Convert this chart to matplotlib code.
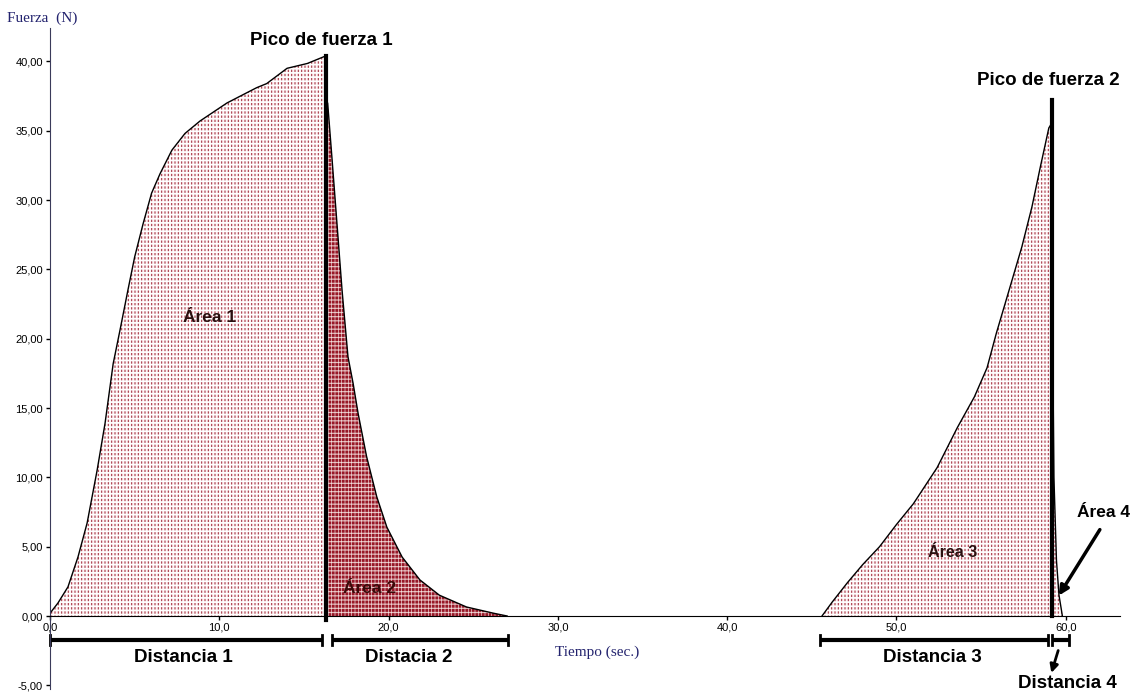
import numpy as np
import matplotlib.pyplot as plt

# --- datos ---
# subida hasta el pico 1 (Área 1)
t1 = [0, 0.47, 1.06, 1.65, 2.19, 2.78, 3.25, 3.73, 4.13, 4.6, 5.0, 5.5, 6.0, 6.5, 7.2,
      7.97, 8.86, 10.45, 12.2, 12.8, 14.0, 15.2, 16.3]
f1 = [0.2, 0.94, 2.1, 4.25, 6.7, 10.5, 13.9, 18.2, 20.6, 23.5, 25.9, 28.3, 30.5, 31.9, 33.6,
      34.8, 35.7, 37.0, 38.1, 38.4, 39.5, 39.85, 40.4]
# bajada tras el pico 1 (Área 2)
t2 = [16.3, 16.4, 16.65, 16.95, 17.25, 17.6, 17.9, 18.2, 18.7, 19.3, 19.9, 20.8, 21.85,
      23.0, 24.6, 26.2, 27.0]
f2 = [37.0, 37.0, 33.1, 28.3, 23.5, 18.7, 16.8, 14.6, 11.5, 8.6, 6.4, 4.25, 2.6,
      1.5, 0.65, 0.2, 0.0]
# subida hasta el pico 2 (Área 3)
t3 = [45.6, 46.2, 47.1, 48.0, 49.0, 50.0, 51.0, 52.4, 53.6, 54.6, 55.35, 55.9, 56.7,
      57.4, 58.0, 58.5, 59.0, 59.2]
f3 = [0.0, 1.0, 2.4, 3.7, 5.0, 6.6, 8.1, 10.7, 13.6, 15.8, 17.9, 20.4, 23.7,
      26.6, 29.5, 32.4, 35.2, 35.6]
# bajada tras el pico 2 (Área 4)
t4 = [59.25, 59.3, 59.45, 59.6, 59.8]
f4 = [16.8, 10.0, 4.0, 1.5, 0.0]

pico1 = (16.3, 40.4)
pico2 = (59.2, 37.2)

# tramos de distancia (inicio, fin, etiqueta)
distancias = [(0.0, 16.07, "Distancia 1"), (16.66, 27.05, "Distacia 2"),
              (45.48, 58.95, "Distancia 3"), (59.18, 60.19, "Distancia 4")]

xticks = [0, 10, 20, 30, 40, 50, 60]
yticks = [-5, 0, 5, 10, 15, 20, 25, 30, 35, 40]

navy = "#23236e"
bold = dict(family="Liberation Sans", weight="bold")

fig = plt.figure(figsize=(11.37, 6.94), dpi=100)
ax = fig.add_axes([0.044, 0.0065, 0.941, 0.953])
ax.set_xlim(0, 63.2)
ax.set_ylim(-5.3, 42.4)


def relleno(t, f, cara, rayas, color_raya, blanco, lw_raya, lw_blanco):
    plt.rcParams['hatch.linewidth'] = lw_raya
    ax.fill_between(t, 0, f, facecolor=cara, edgecolor=color_raya, hatch=rayas, linewidth=0)
    plt.rcParams['hatch.linewidth'] = lw_blanco
    ax.fill_between(t, 0, f, facecolor="none", edgecolor="white", hatch=blanco, linewidth=0)
    ax.plot(t, f, color="black", lw=1)


claro = ("#fcf2f2", "|||||", "#a83848", "----", 0.8, 1.3)
oscuro = ("#e4b8b8", "----", "#981828", "|||||", 2.1, 0.4)
relleno(t1, f1, *claro)
relleno(t2, f2, *oscuro)
relleno(t3, f3, *claro)
relleno(t4, f4, *claro)

# líneas de pico
ax.plot([pico1[0], pico1[0]], [-0.3, pico1[1]], color="black", lw=3)
ax.plot([pico2[0], pico2[0]], [0, pico2[1]], color="black", lw=3)

# ejes
for s in ["top", "right"]:
    ax.spines[s].set_visible(False)
ax.spines["left"].set_color("#3a3a5a")
ax.spines["bottom"].set_position(("data", 0))
ax.spines["bottom"].set_color("black")
ax.set_xticks(xticks)
ax.set_xticklabels([f"{v:.1f}".replace(".", ",") for v in xticks])
ax.set_yticks(yticks)
ax.set_yticklabels([f"{v:.2f}".replace(".", ",") for v in yticks])
ax.tick_params(axis="both", length=3, width=1, labelsize=8, pad=2)
for lab in ax.get_xticklabels() + ax.get_yticklabels():
    lab.set_family("Liberation Sans")

fig.text(0.006, 0.974, "Fuerza  (N)", family="Liberation Serif", fontsize=11, color=navy, va="center")
ax.text(32.3, -2.6, "Tiempo (sec.)", family="Liberation Serif", fontsize=11, color=navy, ha="center", va="center")

# tramos de distancia
yb = -1.73
for x0, x1, nombre in distancias:
    ax.plot([x0, x1], [yb, yb], color="black", lw=3, solid_capstyle="butt", clip_on=False)
    for xc in (x0, x1):
        ax.plot([xc, xc], [yb - 0.35, yb + 0.35], color="black", lw=2, clip_on=False)

ax.text(7.85, -3.0, "Distancia 1", fontsize=13.5, ha="center", va="center", **bold)
ax.text(21.2, -3.0, "Distacia 2", fontsize=13.5, ha="center", va="center", **bold)
ax.text(52.1, -3.0, "Distancia 3", fontsize=13.5, ha="center", va="center", **bold)
ax.text(60.1, -4.85, "Distancia 4", fontsize=13.5, ha="center", va="center", **bold)
ax.annotate("", xy=(59.1, -4.3), xytext=(59.6, -2.3), annotation_clip=False,
            arrowprops=dict(arrowstyle="-|>", color="black", lw=2, mutation_scale=12))

ax.text(16.0, 41.5, "Pico de fuerza 1", fontsize=13.5, ha="center", va="center", clip_on=False, **bold)
ax.text(58.95, 38.6, "Pico de fuerza 2", fontsize=13.5, ha="center", va="center", **bold)

ax.text(9.45, 21.5, "Área 1", fontsize=12.5, ha="center", va="center", color="#2a1010", **bold)
ax.text(18.9, 2.0, "Área 2", fontsize=12.5, ha="center", va="center", color="#3a0a0a", **bold)
ax.text(53.3, 4.6, "Área 3", fontsize=11.5, ha="center", va="center", color="#2a1010", **bold)
ax.text(62.2, 7.5, "Área 4", fontsize=12.5, ha="center", va="center", clip_on=False, **bold)
ax.annotate("", xy=(59.5, 1.3), xytext=(62.1, 6.4), annotation_clip=False,
            arrowprops=dict(arrowstyle="-|>", color="black", lw=2.5, mutation_scale=14))

fig.savefig("out.png", dpi=100)
